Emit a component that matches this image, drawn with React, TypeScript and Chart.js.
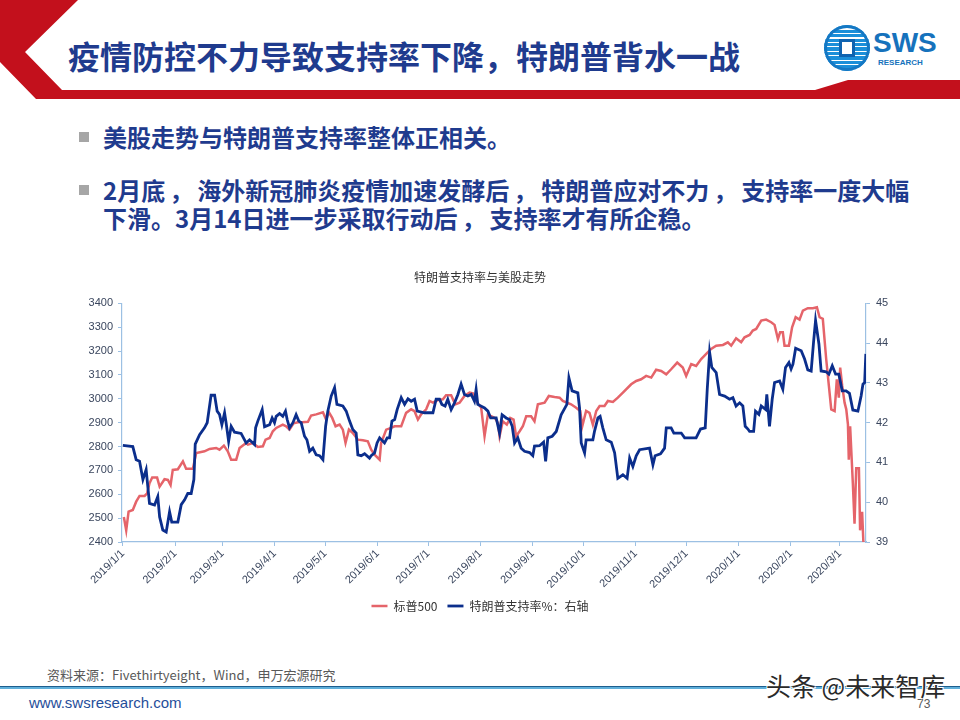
import React, { useEffect, useRef } from 'react';
import { Chart, registerables } from 'chart.js';

Chart.register(...registerables);

// ---- Data (x = days since 2019-01-01) ----
const monthDays = [0, 31, 59, 90, 120, 151, 181, 212, 243, 273, 304, 334, 365, 396, 425];
const monthLabels = [
  '2019/1/1', '2019/2/1', '2019/3/1', '2019/4/1', '2019/5/1', '2019/6/1', '2019/7/1', '2019/8/1',
  '2019/9/1', '2019/10/1', '2019/11/1', '2019/12/1', '2020/1/1', '2020/2/1', '2020/3/1',
];

const spDays = [
  0.6, 2, 3.4, 5.9, 7.9, 9.9, 12.9, 14.4, 15.8, 17.4,
  20.3, 21.8, 24.7, 26.7, 28.3, 29.6, 32.6, 35.6, 37.5, 41.5,
  43.5, 48.4, 51.4, 55.3, 57.3, 59.9, 62.2, 64.2, 67.2, 69.2,
  73.1, 74.1, 77.1, 80, 83, 84.6, 87, 88.9, 90.9, 94.8,
  96.8, 98.8, 101.2, 103.7, 106.3, 109.7, 111.6, 114.6, 118.6, 120.5,
  122.1, 124.1, 126.1, 128.5, 130.4, 132, 134, 136.3, 139.3, 142.3,
  145.2, 147.2, 149.2, 152.2, 153.1, 156.1, 159, 161.1, 165, 167.9,
  170.9, 172.9, 174.9, 176.8, 179.8, 181.8, 183.8, 186.7, 189.7, 191.6,
  194.6, 197, 199.6, 202.5, 205.5, 207.5, 209.4, 212.4, 214.4, 216.4,
  218.3, 220.5, 222.3, 223.3, 225.2, 227.6, 229.6, 231.6, 233.1, 235.2,
  237.1, 239.1, 242, 244, 246, 250, 252.5, 255.9, 258.9, 260.8,
  265.7, 268.7, 271.1, 272.3, 274.6, 276.6, 278.6, 280.6, 282.6, 285.5,
  287.5, 290.5, 293.4, 296.4, 301.3, 304.3, 307.2, 310.2, 313.2, 316.1,
  319.1, 322.1, 325, 328.6, 331.9, 333.9, 336.9, 339.8, 342.8, 345.8,
  348.7, 351.7, 355.7, 358.6, 360.6, 363.5, 366.5, 368.5, 371.5, 373.4,
  375.4, 378.4, 381.3, 384.3, 386.3, 388.3, 389.6, 391.2, 392.2, 394.8,
  396.7, 398.8, 401.1, 403.1, 406, 409, 411.4, 413, 414.9, 416.9,
  418.5, 419.9, 421.9, 423.2, 424.4, 425.2, 426.4, 427.8, 428.8, 429.8,
  430.3, 431.1, 432.7, 433.7, 434.7, 436.3, 437, 438.2, 439, 440.3,
];
const spValues = [
  2505, 2449, 2527, 2534, 2569, 2593, 2593, 2604, 2646, 2670,
  2670, 2632, 2663, 2660, 2639, 2702, 2705, 2738, 2707, 2707,
  2773, 2780, 2790, 2794, 2787, 2804, 2780, 2745, 2745, 2794,
  2815, 2808, 2815, 2798, 2801, 2829, 2836, 2864, 2878, 2892,
  2885, 2871, 2897, 2902, 2902, 2904, 2930, 2935, 2944, 2913,
  2944, 2920, 2885, 2892, 2871, 2815, 2871, 2857, 2829, 2826,
  2822, 2787, 2766, 2745, 2815, 2871, 2878, 2885, 2885, 2941,
  2956, 2948, 2913, 2935, 2956, 2991, 2984, 2995, 2998, 3015,
  3015, 2977, 2984, 3012, 3026, 3023, 2991, 2963, 2843, 2935,
  2927, 2920, 2899, 2843, 2906, 2892, 2920, 2913, 2843, 2864,
  2885, 2927, 2927, 2906, 2977, 2984, 3012, 3008, 3005, 2991,
  2977, 2963, 2949, 2885, 2949, 2941, 2892, 2949, 2970, 2970,
  2991, 2987, 3005, 3026, 3061, 3075, 3082, 3096, 3089, 3122,
  3117, 3103, 3124, 3152, 3131, 3096, 3146, 3138, 3167, 3188,
  3209, 3223, 3226, 3237, 3223, 3254, 3237, 3258, 3268, 3286,
  3293, 3328, 3332, 3321, 3310, 3251, 3279, 3279, 3223, 3223,
  3300, 3342, 3332, 3370, 3380, 3380, 3384, 3342, 3335, 3167,
  3054, 2956, 2949, 3082, 3005, 3131, 3054, 2984, 2956, 2892,
  2745, 2885, 2646, 2477, 2709, 2709, 2449, 2527, 2390, 2350,
];

const apDays = [
  0, 5.9, 7.9, 9.9, 11.9, 13.8, 15.8, 18.8, 20.7, 21.8,
  23.7, 25.7, 27.7, 29, 32.6, 34.6, 36.6, 38.5, 40.5, 42.1,
  42.9, 45.5, 48.4, 50, 51.4, 52.3, 54.4, 55.9, 57.3, 58.7,
  60.3, 61.2, 62.7, 64.2, 66.2, 70.1, 73.1, 75.1, 78.1, 78.7,
  80, 82.6, 84, 87, 88.5, 89.9, 90.9, 92.9, 94.8, 96.4,
  97.4, 98.8, 100.8, 102.7, 104.3, 105.7, 107.7, 109.1, 110.7, 112.6,
  114.6, 116.6, 118.6, 120.2, 121.5, 123.5, 125.5, 126.9, 130.4, 132.4,
  134.4, 136.3, 138.3, 139.3, 141.3, 143.3, 146.2, 147.2, 149.2, 150.7,
  152.2, 155.1, 156.7, 158.1, 159.5, 161.1, 162.6, 165, 167, 169,
  170.9, 172.9, 174.5, 178.8, 183.8, 185.7, 187.7, 189.1, 191, 192.6,
  194.6, 196.6, 198.6, 200.5, 202.5, 204.5, 206.5, 208.4, 209.4, 210.4,
  214.4, 216.4, 218, 221.3, 223.3, 224.8, 227.2, 229.2, 230.8, 232.2,
  234.1, 236.1, 238.1, 241.1, 243, 244, 247, 249.4, 250.6, 251.9,
  254.5, 256.9, 259.8, 263.2, 264.4, 266.3, 269.7, 270.7, 271.7, 273.7,
  274.6, 278.6, 279.6, 281.6, 282.9, 284.5, 286.5, 289.5, 291.5, 293.4,
  296.4, 298.9, 300.4, 302.3, 304.3, 306.3, 312.2, 314.2, 315.5, 318.7,
  321.1, 322.1, 325, 326.6, 331, 333, 339.8, 342.4, 345.2, 346.4,
  347.8, 349.1, 351.7, 353.7, 356.7, 359.6, 361.6, 363.5, 365.6, 367.5,
  368.9, 370.5, 371.5, 373.9, 375, 377, 378.4, 381, 381.7, 383.3,
  384.9, 386.3, 389.3, 391.2, 392.8, 394.8, 396.1, 397.2, 398.8, 402.1,
  404.1, 406, 408, 409.4, 410.6, 412.6, 413.9, 416.9, 418.5, 420.5,
  422.5, 424.4, 426.4, 428.7, 430.7, 432.7, 435.7, 437.6, 438.7, 439.7,
  440.4,
];
const apValues = [
  41.43, 41.4, 41.07, 41.03, 40.57, 40.82, 39.97, 39.93, 40.14, 39.63,
  39.3, 39.25, 39.76, 39.5, 39.5, 39.94, 40.06, 40.22, 40.22, 40.57,
  41.46, 41.7, 41.87, 42.0, 42.42, 42.69, 42.69, 42.29, 42.21, 41.95,
  42.25, 42.0, 41.53, 41.91, 41.76, 41.73, 41.49, 41.57, 41.45, 41.87,
  42.04, 42.33, 41.9, 41.95, 42.12, 42.0, 42.16, 42.23, 42.16, 42.29,
  42.08, 41.87, 42.0, 42.2, 42.04, 42.0, 41.66, 41.57, 41.28, 41.36,
  41.19, 41.17, 41.07, 41.91, 42.29, 42.67, 42.88, 42.46, 42.42, 42.29,
  42.04, 41.83, 41.74, 41.19, 41.17, 41.22, 41.11, 41.17, 41.24, 41.49,
  41.62, 41.49, 41.62, 41.62, 42.04, 42.08, 42.33, 42.63, 42.46, 42.6,
  42.54, 42.59, 42.29, 42.25, 42.25, 42.59, 42.59, 42.46, 42.42, 42.59,
  42.33, 42.5, 42.71, 42.97, 42.71, 42.67, 42.71, 42.54, 42.84, 42.46,
  42.37, 42.29, 42.12, 42.12, 41.74, 42.2, 42.12, 42.08, 41.91, 41.49,
  41.62, 41.36, 41.28, 41.25, 41.17, 41.41, 41.42, 41.51, 41.03, 41.62,
  41.66, 41.78, 42.2, 42.46, 43.13, 42.8, 42.75, 42.37, 41.49, 41.24,
  41.57, 41.57, 41.79, 42.12, 42.16, 41.87, 41.57, 41.51, 41.24, 40.6,
  40.69, 40.6, 41.11, 40.9, 41.17, 41.32, 41.36, 40.94, 41.17, 41.22,
  41.36, 41.87, 41.87, 41.74, 41.74, 41.62, 41.62, 41.84, 41.87, 42.84,
  43.77, 43.39, 43.26, 42.71, 42.67, 42.59, 42.63, 42.42, 42.5, 42.42,
  41.91, 41.84, 41.78, 41.78, 42.29, 42.21, 42.42, 42.33, 42.71, 41.91,
  42.59, 43.01, 43.05, 42.84, 43.39, 43.51, 43.35, 43.47, 43.87, 43.81,
  43.6, 43.33, 43.3, 44.02, 44.57, 43.98, 43.3, 43.28, 43.22, 43.43,
  43.22, 43.22, 42.8, 42.8, 42.74, 42.32, 42.29, 42.67, 42.97, 43.01,
  43.73,
];

const seriesNames = ['标普500', '特朗普支持率%：右轴'];
const chartTitle = '特朗普支持率与美股走势';

// ---- Styles ----
const RED = '#E5646A';
const BLUE = '#0B2E8C';
const AXIS = '#9CC0E3';
const TICK_TEXT = '#3A465E';
const LATIN = "'Liberation Sans', Arial, 'Noto Sans CJK SC', sans-serif";
const CJK = "'Noto Sans CJK SC', 'Liberation Sans', sans-serif";
const NAVY = '#1F3B8E';

function SlideChart() {
  const ref = useRef<HTMLCanvasElement>(null);
  useEffect(() => {
    const canvas = ref.current;
    if (!canvas) return;
    const chart = new Chart(canvas, {
      type: 'line',
      data: {
        datasets: [
          {
            label: seriesNames[0],
            data: spDays.map((d, i) => ({ x: d, y: spValues[i] })),
            borderColor: RED,
            backgroundColor: RED,
            borderWidth: 2.5,
            pointRadius: 0,
            tension: 0,
            yAxisID: 'y',
            order: 2,
          },
          {
            label: seriesNames[1],
            data: apDays.map((d, i) => ({ x: d, y: apValues[i] })),
            borderColor: BLUE,
            backgroundColor: BLUE,
            borderWidth: 2.8,
            pointRadius: 0,
            tension: 0,
            yAxisID: 'y1',
            order: 1,
          },
        ],
      },
      options: {
        animation: false,
        responsive: false,
        maintainAspectRatio: false,
        layout: { padding: { top: 8, left: 0, right: 0, bottom: 0 } },
        plugins: {
          tooltip: { enabled: false },
          title: {
            display: true,
            text: chartTitle,
            color: '#333333',
            font: { family: CJK, size: 12, weight: 'normal' },
            padding: { top: 0, bottom: 19 },
          },
          legend: {
            position: 'bottom',
            labels: {
              usePointStyle: true,
              pointStyle: 'line',
              pointStyleWidth: 16,
              boxHeight: 12,
              color: '#333333',
              font: { family: CJK, size: 12 },
              padding: 10,
              sort: (a: any, b: any) => a.datasetIndex - b.datasetIndex,
            },
          },
        },
        scales: {
          x: {
            type: 'linear',
            min: -0.5,
            max: 440.5,
            afterBuildTicks: (s: any) => {
              s.ticks = monthDays.map((v) => ({ value: v }));
            },
            afterFit: (s: any) => {
              s.height = 48;
            },
            ticks: {
              autoSkip: false,
              maxRotation: 45,
              minRotation: 45,
              padding: 1,
              color: TICK_TEXT,
              font: { family: LATIN, size: 11 },
              callback: (_v: any, i: number) => monthLabels[i],
            },
            grid: { drawOnChartArea: false, drawTicks: true, tickLength: 4, color: AXIS },
            border: { color: AXIS, width: 1.2 },
          },
          y: {
            position: 'left',
            min: 2400,
            max: 3400,
            afterFit: (s: any) => {
              s.width = 62;
            },
            ticks: {
              stepSize: 100,
              padding: 5,
              color: TICK_TEXT,
              font: { family: LATIN, size: 11 },
              callback: (v: any) => String(v),
            },
            grid: { drawOnChartArea: false, drawTicks: true, tickLength: 4, color: AXIS },
            border: { color: AXIS, width: 1.2 },
          },
          y1: {
            position: 'right',
            min: 39,
            max: 45,
            afterFit: (s: any) => {
              s.width = 34;
            },
            ticks: {
              stepSize: 1,
              padding: 6,
              color: TICK_TEXT,
              font: { family: LATIN, size: 11 },
              callback: (v: any) => String(v),
            },
            grid: { drawOnChartArea: false, drawTicks: true, tickLength: 4, color: AXIS },
            border: { color: AXIS, width: 1.2 },
          },
        },
      },
    } as any);
    return () => chart.destroy();
  }, []);
  return <canvas ref={ref} width={840} height={360} style={{ width: 840, height: 360, display: 'block' }} />;
}

const comma = <span style={{ margin: '0 4px' }}>，</span>;

export default function App() {
  return (
    <div
      style={{
        position: 'absolute',
        left: 0,
        top: 0,
        width: 960,
        height: 720,
        overflow: 'hidden',
        background: '#ffffff',
        fontFamily: CJK,
      }}
    >
      {/* header frame */}
      <svg width={960} height={110} style={{ position: 'absolute', left: 0, top: 0 }}>
        <polygon
          points="0,0 78,0 25,52 62,90 815,90 848,80 960,80 960,99 36,99 0,62"
          fill="#C3101C"
        />
      </svg>
      <div
        style={{
          position: 'absolute',
          left: 68,
          top: 34,
          fontSize: 32,
          lineHeight: '42px',
          fontWeight: 700,
          color: NAVY,
          whiteSpace: 'nowrap',
        }}
      >
        疫情防控不力导致支持率下降，特朗普背水一战
      </div>

      {/* logo */}
      <div
        style={{
          position: 'absolute',
          left: 824,
          top: 25,
          width: 46,
          height: 46,
          borderRadius: '50%',
          background:
            'repeating-linear-gradient(180deg, #1B8FD9 0px, #1B8FD9 3px, #ffffff 3px, #ffffff 4.5px)',
          boxShadow: 'inset 0 0 0 3px #1478C4',
        }}
      >
        <div
          style={{
            position: 'absolute',
            left: 15,
            top: 14,
            width: 16,
            height: 18,
            background: '#ffffff',
            border: '3px solid #0F63B0',
            boxSizing: 'border-box',
          }}
        />
      </div>
      <div
        style={{
          position: 'absolute',
          left: 873,
          top: 27,
          fontFamily: LATIN,
          fontWeight: 700,
          fontSize: 28,
          lineHeight: '32px',
          color: '#1672BC',
        }}
      >
        SWS
      </div>
      <div
        style={{
          position: 'absolute',
          left: 878,
          top: 58,
          fontFamily: LATIN,
          fontWeight: 700,
          fontSize: 8,
          lineHeight: '10px',
          color: '#1672BC',
        }}
      >
        RESEARCH
      </div>

      {/* bullets */}
      <div style={{ position: 'absolute', left: 79, top: 132, width: 10, height: 10, background: '#A6A6A6' }} />
      <div
        style={{
          position: 'absolute',
          left: 103,
          top: 123,
          fontSize: 24,
          lineHeight: '28px',
          fontWeight: 700,
          color: NAVY,
          whiteSpace: 'nowrap',
        }}
      >
        美股走势与特朗普支持率整体正相关。
      </div>
      <div style={{ position: 'absolute', left: 79, top: 185, width: 10, height: 10, background: '#A6A6A6' }} />
      <div
        style={{
          position: 'absolute',
          left: 103,
          top: 176,
          fontSize: 24,
          lineHeight: '28px',
          fontWeight: 700,
          color: NAVY,
          whiteSpace: 'nowrap',
        }}
      >
        2月底{comma}海外新冠肺炎疫情加速发酵后{comma}特朗普应对不力{comma}支持率一度大幅
        <br />
        下滑。3月14日进一步采取行动后{comma}支持率才有所企稳。
      </div>

      {/* chart */}
      <div style={{ position: 'absolute', left: 60, top: 262, width: 840, height: 360 }}>
        <SlideChart />
      </div>

      {/* footer */}
      <div
        style={{
          position: 'absolute',
          left: 47,
          top: 666,
          fontSize: 13,
          lineHeight: '18px',
          color: '#595959',
          whiteSpace: 'nowrap',
        }}
      >
        资料来源：Fivethirtyeight，Wind，申万宏源研究
      </div>
      <div
        style={{
          position: 'absolute',
          left: 0,
          top: 686,
          width: 960,
          height: 3,
          background: 'linear-gradient(180deg, #1E5E8E 0px, #1E5E8E 1px, #5FAFDA 1px, #5FAFDA 3px)',
        }}
      />
      <div
        style={{
          position: 'absolute',
          left: 29,
          top: 694,
          fontFamily: LATIN,
          fontSize: 15,
          lineHeight: '18px',
          color: '#1F4E9A',
        }}
      >
        www.swsresearch.com
      </div>
      <div
        style={{
          position: 'absolute',
          left: 917,
          top: 697,
          fontFamily: LATIN,
          fontSize: 12,
          lineHeight: '14px',
          color: '#595959',
        }}
      >
        73
      </div>
      <div
        style={{
          position: 'absolute',
          left: 766,
          top: 670,
          fontSize: 25,
          lineHeight: '30px',
          color: '#2A2A2A',
          whiteSpace: 'nowrap',
          textShadow: '1px 1px 0 #fff, -1px -1px 0 #fff, 1px -1px 0 #fff, -1px 1px 0 #fff',
        }}
      >
        头条 @未来智库
      </div>
    </div>
  );
}
